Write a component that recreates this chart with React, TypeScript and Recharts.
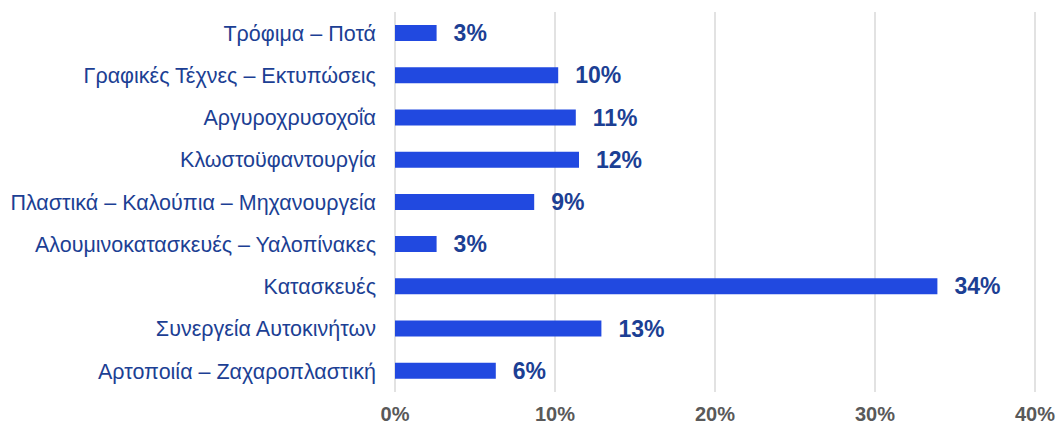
import { BarChart, Bar, XAxis, YAxis, CartesianGrid, LabelList } from "recharts";

const categories = [
  "Τρόφιμα – Ποτά",
  "Γραφικές Τέχνες – Εκτυπώσεις",
  "Αργυροχρυσοχοΐα",
  "Κλωστοϋφαντουργία",
  "Πλαστικά – Καλούπια – Μηχανουργεία",
  "Αλουμινοκατασκευές – Υαλοπίνακες",
  "Κατασκευές",
  "Συνεργεία Αυτοκινήτων",
  "Αρτοποιία – Ζαχαροπλαστική",
];
const shares = [2.6, 10.2, 11.3, 11.5, 8.7, 2.6, 33.9, 12.9, 6.3];
const xTicks = [0, 10, 20, 30, 40];

const data = categories.map((name, i) => ({ name, value: shares[i] }));

const FONT = "'Liberation Sans', Arial, sans-serif";

export default function App() {
  return (
    <div style={{ position: "absolute", left: 0, top: 0, fontFamily: FONT }}>
      <BarChart
        width={1058}
        height={426}
        data={data}
        layout="vertical"
        margin={{ top: 12, right: 23, bottom: 0, left: 0 }}
        barCategoryGap={0}
      >
        <CartesianGrid horizontal={false} stroke="#d9d9d9" strokeWidth={1.5} />
        <XAxis
          type="number"
          domain={[0, 40]}
          ticks={xTicks}
          tickFormatter={(v: number) => `${v}%`}
          axisLine={false}
          tickLine={false}
          tickSize={0}
          tickMargin={15}
          height={34}
          tick={{ fill: "#595959", fontSize: 20, fontWeight: 700, fontFamily: FONT }}
          interval={0}
        />
        <YAxis
          type="category"
          dataKey="name"
          width={395}
          axisLine={false}
          tickLine={false}
          tickSize={0}
          tickMargin={19}
          interval={0}
          tick={{ fill: "#1c3f94", fontSize: 21.5, fontFamily: FONT }}
        />
        <Bar dataKey="value" fill="#2149e0" barSize={16} isAnimationActive={false}>
          <LabelList
            dataKey="value"
            position="right"
            offset={17}
            formatter={(v: any) => `${Math.round(Number(v))}%`}
            style={{ fill: "#1c3f94", fontSize: 23, fontWeight: 700, fontFamily: FONT }}
          />
        </Bar>
      </BarChart>
    </div>
  );
}
